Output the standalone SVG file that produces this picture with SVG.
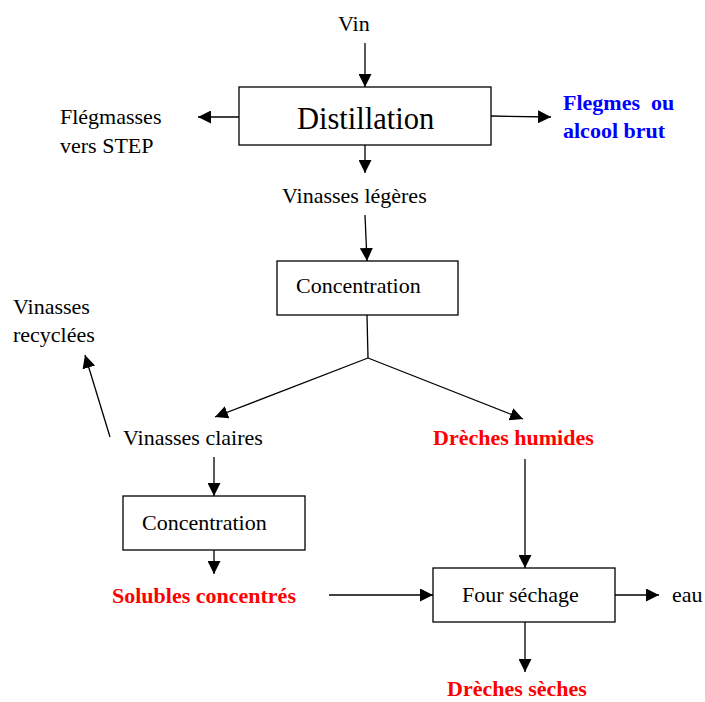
<svg xmlns="http://www.w3.org/2000/svg" width="705" height="702" viewBox="0 0 705 702">
<style>
text{font-family:"Liberation Serif","Times New Roman",serif;font-size:22px;fill:#000;}
.b{font-weight:bold;}
.red{fill:#ff0000;}
.blue{fill:#0000ff;}
.box{fill:#fff;stroke:#000;stroke-width:1.3;}
.c line{stroke:#000;stroke-width:1.3;}
</style>
<defs>
<marker id="ah" markerUnits="userSpaceOnUse" markerWidth="13" markerHeight="13" refX="12" refY="6" orient="auto" viewBox="0 0 12 12">
<path d="M0,0 L12,6 L0,12 z" fill="#000"/>
</marker>
</defs>
<rect width="705" height="702" fill="#fff"/>
<g class="c">
<line x1="365" y1="43" x2="365" y2="87" marker-end="url(#ah)"/>
<line x1="239" y1="117" x2="198" y2="117" marker-end="url(#ah)"/>
<line x1="491" y1="116" x2="551" y2="117" marker-end="url(#ah)"/>
<line x1="365" y1="145" x2="365" y2="173" marker-end="url(#ah)"/>
<line x1="365" y1="215" x2="367" y2="261" marker-end="url(#ah)"/>
<line x1="367" y1="315" x2="368" y2="358"/>
<line x1="368" y1="358" x2="215" y2="417" marker-end="url(#ah)"/>
<line x1="368" y1="358" x2="523" y2="419" marker-end="url(#ah)"/>
<line x1="110" y1="437" x2="85" y2="355" marker-end="url(#ah)"/>
<line x1="214" y1="457" x2="214" y2="496" marker-end="url(#ah)"/>
<line x1="214" y1="550" x2="214" y2="574" marker-end="url(#ah)"/>
<line x1="329" y1="595" x2="433" y2="595" marker-end="url(#ah)"/>
<line x1="525" y1="459" x2="525" y2="568" marker-end="url(#ah)"/>
<line x1="615" y1="595" x2="659" y2="595" marker-end="url(#ah)"/>
<line x1="525" y1="622" x2="525" y2="672" marker-end="url(#ah)"/>
</g>
<g id="vin"><text x="338" y="31">Vin</text></g>
<g id="distillation">
<rect class="box" x="239" y="87" width="252" height="58"/>
<text x="297" y="129" style="font-size:30.5px">Distillation</text>
</g>
<g id="flegmasses"><text x="60" y="124">Flégmasses</text><text x="60" y="153">vers STEP</text></g>
<g id="flegmes"><text class="b blue" x="563" y="110" style="white-space:pre">Flegmes  ou</text><text class="b blue" x="563" y="138">alcool brut</text></g>
<g id="vinasses-legeres"><text x="282" y="203">Vinasses légères</text></g>
<g id="concentration1">
<rect class="box" x="277" y="261" width="181" height="54"/>
<text x="296" y="293">Concentration</text>
</g>
<g id="vinasses-recyclees"><text x="13" y="314">Vinasses</text><text x="13" y="342">recyclées</text></g>
<g id="vinasses-claires"><text x="123" y="445">Vinasses claires</text></g>
<g id="dreches-humides"><text class="b red" x="433" y="445">Drèches humides</text></g>
<g id="concentration2">
<rect class="box" x="123" y="496" width="182" height="54"/>
<text x="142" y="530">Concentration</text>
</g>
<g id="solubles"><text class="b red" x="112" y="603">Solubles concentrés</text></g>
<g id="four">
<rect class="box" x="433" y="568" width="182" height="54"/>
<text x="462" y="602">Four séchage</text>
</g>
<g id="eau"><text x="672" y="602">eau</text></g>
<g id="dreches-seches"><text class="b red" x="447" y="696">Drèches sèches</text></g>
</svg>
